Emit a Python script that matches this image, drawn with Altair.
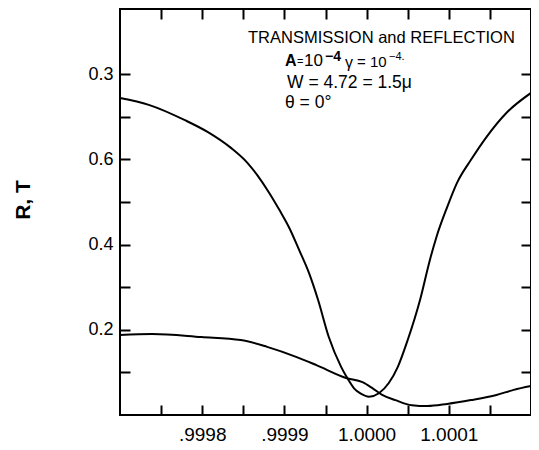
import altair as alt
import pandas as pd

# frequency offset from 1.0000 in units of 1e-4
t_x = [-3.0, -2.65, -2.21, -1.93, -1.65, -1.45, -1.33, -1.19, -1.06, -0.94, -0.82, -0.70,
       -0.59, -0.46, -0.31, -0.22, -0.15, -0.07, 0.03, 0.15, 0.27, 0.38, 0.50, 0.65,
       0.77, 0.85, 0.98, 1.10, 1.27, 1.46, 1.70, 2.0]
t_y = [0.744, 0.728, 0.692, 0.664, 0.627, 0.592, 0.563, 0.523, 0.481, 0.439, 0.387, 0.333,
       0.270, 0.183, 0.113, 0.082, 0.062, 0.050, 0.043, 0.051, 0.075, 0.113, 0.176, 0.270,
       0.364, 0.418, 0.488, 0.545, 0.599, 0.653, 0.709, 0.756]
r_x = [-3.0, -2.61, -2.01, -1.53, -1.21, -0.85, -0.61, -0.25, -0.05, 0.07, 0.19, 0.35,
       0.55, 0.74, 0.98, 1.27, 1.58, 1.79, 2.0]
r_y = [0.188, 0.190, 0.183, 0.176, 0.160, 0.136, 0.117, 0.087, 0.077, 0.063, 0.047, 0.035,
       0.023, 0.021, 0.026, 0.035, 0.047, 0.059, 0.068]

x_ticks = [-2.5, -2.0, -1.5, -1.0, -0.5, 0.0, 0.5, 1.0, 1.5]
x_label_values = [-2, -1, 0, 1]
x_label_text = [".9998", ".9999", "1.0000", "1.0001"]
y_ticks = [0.1, 0.2, 0.3, 0.4, 0.5, 0.6, 0.7, 0.8]
y_label_values = [0.2, 0.4, 0.6, 0.8]
y_label_text = ["0.2", "0.4", "0.6", "0.3"]

x_dom = [-3.0, 2.0]
y_dom = [0.0, 0.953]

FONT = "Liberation Sans"

def label_expr(vals, texts):
    expr = "''"
    for v, t in zip(vals, texts):
        expr = f"abs(datum.value - ({v})) < 1e-6 ? '{t}' : " + expr
    return expr

df_t = pd.DataFrame({"x": t_x, "y": t_y})
df_r = pd.DataFrame({"x": r_x, "y": r_y})

xs = alt.Scale(domain=x_dom, nice=False, zero=False)
ys = alt.Scale(domain=y_dom, nice=False, zero=False)

common_axis = dict(tickSize=10, offset=-10, domain=False, grid=False, tickColor="black",
                   tickWidth=2, labelColor="black", labelFont=FONT, title=None)

line_t = alt.Chart(df_t).mark_line(color="black", strokeWidth=2, interpolate="monotone").encode(
    x=alt.X("x:Q", scale=xs, axis=alt.Axis(orient="bottom", values=x_ticks,
            labelExpr=label_expr(x_label_values, x_label_text), labelFontSize=19,
            labelPadding=10, **common_axis)),
    y=alt.Y("y:Q", scale=ys, axis=alt.Axis(orient="left", values=y_ticks,
            labelExpr=label_expr(y_label_values, y_label_text), labelFontSize=18,
            labelPadding=7, **common_axis)),
)

line_r = alt.Chart(df_r).mark_line(color="black", strokeWidth=2, interpolate="monotone").encode(
    x=alt.X("x:Q", scale=xs, axis=alt.Axis(orient="top", values=x_ticks, labels=False,
            **common_axis)),
    y=alt.Y("y:Q", scale=ys, axis=alt.Axis(orient="right", values=y_ticks, labels=False,
            **common_axis)),
)

def txt(s, px, py, size, weight="normal", angle=0, align="left", baseline="alphabetic"):
    return alt.Chart(pd.DataFrame({"t": [s]})).mark_text(
        font=FONT, fontSize=size, fontWeight=weight, color="black", align=align,
        baseline=baseline, angle=angle
    ).encode(x=alt.value(px), y=alt.value(py), text="t:N")

annotations = [
    txt("TRANSMISSION and REFLECTION", 128, 34, 16.5),
    txt("A", 165, 57, 16, "bold"),
    txt("=", 177, 56, 11),
    txt("10", 184, 57, 17),
    txt("\u22124", 205, 52, 14, "bold"),
    txt("\u03b3", 225, 59, 16),
    txt("= 10", 237, 58, 15),
    txt("\u22124.", 269, 51, 11),
    txt("W = 4.72 = 1.5\u03bc", 167, 79, 17.5),
    txt("\u03b8  = 0\u00b0", 165, 99, 17.5),
    txt("R, T", -96, 191, 21, "bold", angle=270, align="center", baseline="middle"),
]

chart = alt.layer(line_t, line_r, *annotations).resolve_axis(
    x="independent", y="independent"
).properties(
    width=411, height=406,
    autosize=alt.AutoSizeParams(type="none"),
    padding={"left": 112, "top": 1, "right": 0, "bottom": 32},
).configure_view(stroke="black", strokeWidth=2)

chart.save("out.html", embed_options={"renderer": "svg", "actions": False})
